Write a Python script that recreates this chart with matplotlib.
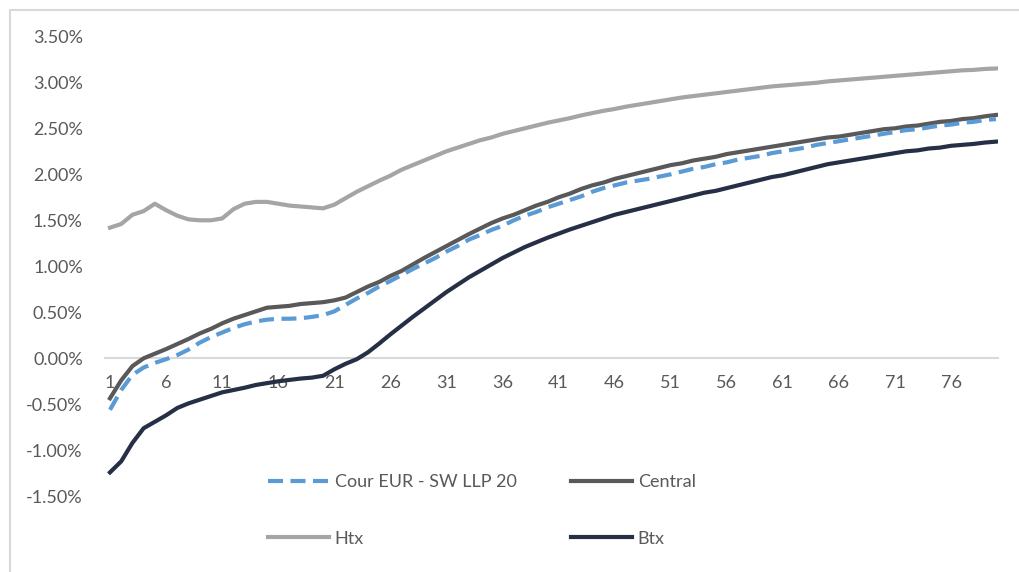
import matplotlib.pyplot as plt
from matplotlib.ticker import FuncFormatter
from matplotlib.patches import Rectangle

# maturities 1..80
maturity = list(range(1, 81))

cour_eur = [-0.56, -0.345, -0.18, -0.10, -0.05, -0.01, 0.035, 0.095, 0.17, 0.23,
            0.28, 0.33, 0.37, 0.40, 0.42, 0.43, 0.43, 0.435, 0.45, 0.47,
            0.51, 0.58, 0.65, 0.71, 0.78, 0.84, 0.905, 0.97, 1.03, 1.09,
            1.16, 1.22, 1.29, 1.34, 1.395, 1.44, 1.50, 1.55, 1.59, 1.64,
            1.68, 1.72, 1.76, 1.81, 1.85, 1.88, 1.91, 1.93, 1.95, 1.975,
            2.00, 2.03, 2.06, 2.08, 2.11, 2.13, 2.16, 2.18, 2.20, 2.23,
            2.25, 2.27, 2.29, 2.32, 2.34, 2.36, 2.38, 2.40, 2.42, 2.44,
            2.46, 2.48, 2.49, 2.51, 2.53, 2.54, 2.56, 2.57, 2.59, 2.60]

central = [-0.435, -0.24, -0.085, 0.0, 0.05, 0.10, 0.155, 0.21, 0.27, 0.32,
           0.38, 0.43, 0.47, 0.51, 0.55, 0.56, 0.57, 0.59, 0.60, 0.61,
           0.63, 0.66, 0.72, 0.78, 0.83, 0.895, 0.95, 1.02, 1.09, 1.155,
           1.22, 1.285, 1.35, 1.41, 1.47, 1.52, 1.56, 1.61, 1.66, 1.70,
           1.75, 1.79, 1.84, 1.88, 1.91, 1.95, 1.98, 2.01, 2.04, 2.07,
           2.10, 2.12, 2.15, 2.17, 2.19, 2.22, 2.24, 2.26, 2.28, 2.30,
           2.32, 2.34, 2.36, 2.38, 2.40, 2.41, 2.43, 2.45, 2.47, 2.49,
           2.50, 2.52, 2.53, 2.55, 2.57, 2.58, 2.60, 2.61, 2.63, 2.645]

htx = [1.42, 1.46, 1.56, 1.60, 1.68, 1.61, 1.55, 1.51, 1.50, 1.50,
       1.52, 1.62, 1.68, 1.70, 1.70, 1.68, 1.66, 1.65, 1.64, 1.63,
       1.67, 1.74, 1.81, 1.87, 1.93, 1.985, 2.05, 2.10, 2.15, 2.20,
       2.25, 2.29, 2.33, 2.37, 2.40, 2.44, 2.47, 2.50, 2.53, 2.56,
       2.585, 2.61, 2.64, 2.665, 2.69, 2.71, 2.735, 2.755, 2.775, 2.795,
       2.815, 2.835, 2.85, 2.865, 2.88, 2.895, 2.91, 2.925, 2.94, 2.955,
       2.965, 2.975, 2.985, 2.995, 3.01, 3.02, 3.03, 3.04, 3.05, 3.06,
       3.07, 3.08, 3.09, 3.10, 3.11, 3.12, 3.13, 3.135, 3.145, 3.15]

btx = [-1.24, -1.12, -0.92, -0.76, -0.69, -0.62, -0.54, -0.49, -0.45, -0.41,
       -0.37, -0.345, -0.32, -0.29, -0.27, -0.25, -0.235, -0.22, -0.21, -0.19,
       -0.12, -0.06, -0.01, 0.065, 0.16, 0.26, 0.355, 0.45, 0.54, 0.63,
       0.72, 0.80, 0.88, 0.95, 1.02, 1.09, 1.15, 1.21, 1.26, 1.31,
       1.355, 1.40, 1.44, 1.48, 1.52, 1.56, 1.59, 1.62, 1.65, 1.68,
       1.71, 1.74, 1.77, 1.80, 1.82, 1.85, 1.88, 1.91, 1.94, 1.97,
       1.99, 2.02, 2.05, 2.08, 2.11, 2.13, 2.15, 2.17, 2.19, 2.21,
       2.23, 2.25, 2.26, 2.28, 2.29, 2.31, 2.32, 2.33, 2.345, 2.355]

yticks = [-1.5, -1.0, -0.5, 0.0, 0.5, 1.0, 1.5, 2.0, 2.5, 3.0, 3.5]
xticks = list(range(1, 81, 5))

plt.rcParams['font.family'] = ['Lato', 'DejaVu Sans']
text_col = '#595959'

fig = plt.figure(figsize=(10.2, 5.72), dpi=100)
W, H = 1020, 572
ax = fig.add_axes([105 / W, 1 - 542.3 / H, 893 / W, (542.3 - 36.3) / H])

# light grey outer frame of the chart
fig.patches.append(Rectangle((10 / W, -0.1), 1.2, 1 - 10 / H + 0.1,
                             transform=fig.transFigure, fill=False,
                             edgecolor='#D9D9D9', linewidth=1.5))

l_cour, = ax.plot(maturity, cour_eur, color='#5B9BD5', lw=3, dashes=(3.6, 1.8),
                  label='Cour EUR - SW LLP 20', zorder=4)
l_cen, = ax.plot(maturity, central, color='#595959', lw=3, label='Central', zorder=3)
l_htx, = ax.plot(maturity, htx, color='#A5A5A5', lw=3, label='Htx', zorder=3)
l_btx, = ax.plot(maturity, btx, color='#262F45', lw=3, label='Btx', zorder=3)

ax.set_xlim(0.555, 80.18)
ax.set_ylim(-2.0, 3.5)
ax.set_yticks(yticks)
ax.set_xticks(xticks)
ax.yaxis.set_major_formatter(FuncFormatter(lambda v, p: f'{v:.2f}%'))

for s in ['top', 'right', 'left']:
    ax.spines[s].set_visible(False)
ax.spines['bottom'].set_position(('data', 0))
ax.spines['bottom'].set_color('#D9D9D9')
ax.spines['bottom'].set_linewidth(1.5)
ax.spines['bottom'].set_zorder(1)

ax.tick_params(axis='y', length=0, pad=16, labelsize=13, labelcolor=text_col)
ax.tick_params(axis='x', length=0, pad=12, labelsize=13, labelcolor=text_col)

# legend filled row by row like the original
handles = [l_cour, l_htx, l_cen, l_btx]
leg = ax.legend(handles, [h.get_label() for h in handles], ncol=2,
                loc='upper left', bbox_to_anchor=(268 / W, 1 - 474 / H),
                bbox_transform=fig.transFigure, frameon=False, fontsize=13,
                handlelength=3.4, handletextpad=0.3, columnspacing=3.0,
                labelspacing=2.25, borderpad=0, borderaxespad=0)
for t in leg.get_texts():
    t.set_color(text_col)

fig.savefig('out.png', dpi=100)
